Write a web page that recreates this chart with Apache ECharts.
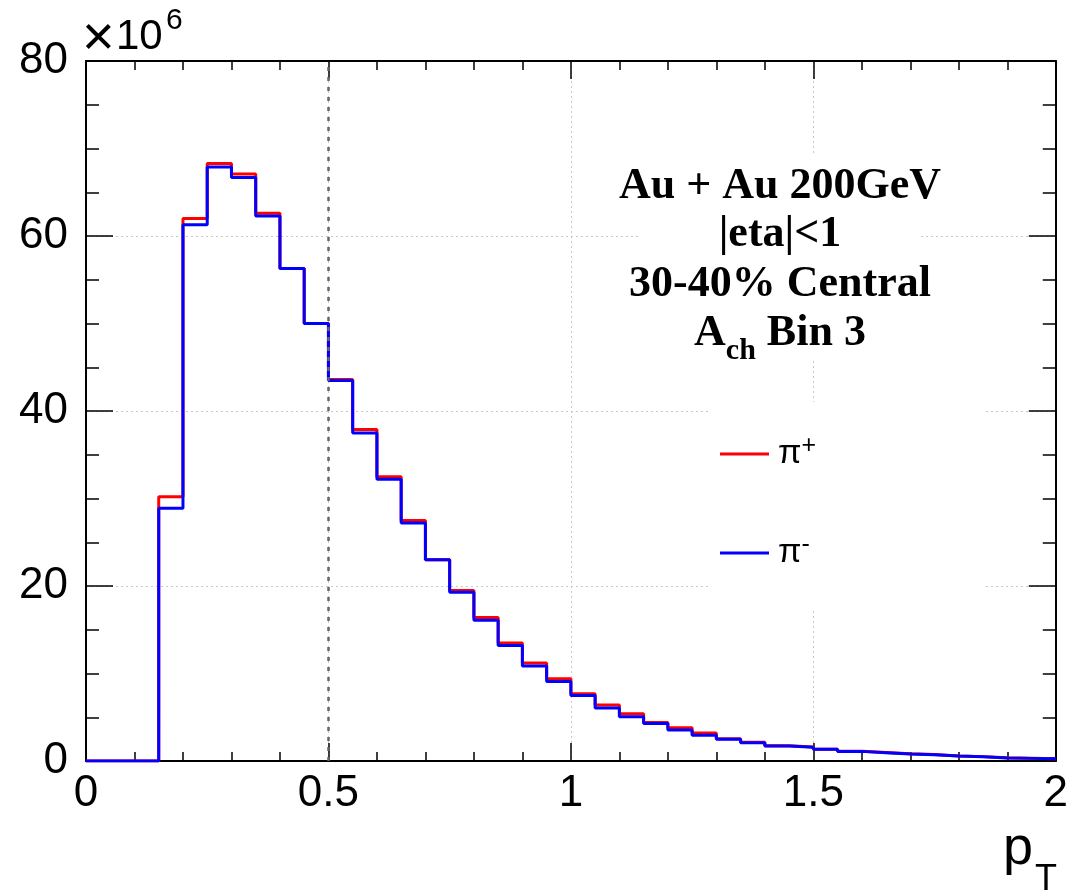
<!DOCTYPE html>
<html>
<head>
<meta charset="utf-8">
<script src="https://cdn.jsdelivr.net/npm/echarts@6/dist/echarts.min.js"></script>
<style>
html,body{margin:0;padding:0;background:#fff;}
#chart{width:1071px;height:893px;}
</style>
</head>
<body>
<div id="chart"></div>
<script>
// Bin edges in pT (GeV/c), 0.05 wide
const binEdges = [0,0.05,0.1,0.15,0.2,0.25,0.3,0.35,0.4,0.45,0.5,0.55,0.6,0.65,0.7,0.75,0.8,0.85,0.9,0.95,
  1.0,1.05,1.1,1.15,1.2,1.25,1.3,1.35,1.4,1.45,1.5,1.55,1.6,1.65,1.7,1.75,1.8,1.85,1.9,1.95,2.0];
// Counts in units of 10^6
const piPlusCounts = [0,0,0,30.2,62.0,68.3,67.1,62.6,56.3,50.0,43.6,37.9,32.5,27.5,23.0,19.5,16.4,13.5,11.2,9.4,
  7.7,6.4,5.4,4.4,3.8,3.2,2.55,2.15,1.75,1.6,1.35,1.12,0.97,0.82,0.73,0.58,0.5,0.36,0.31,0.26];
const piMinusCounts = [0,0,0,28.9,61.3,67.9,66.7,62.3,56.3,50.0,43.5,37.5,32.2,27.2,23.0,19.3,16.1,13.2,10.85,9.1,
  7.5,6.05,5.06,4.3,3.54,2.93,2.48,2.09,1.71,1.56,1.33,1.1,0.95,0.8,0.72,0.57,0.49,0.34,0.3,0.25];
const seriesNames = ['π+', 'π-'];
const infoLines = ['Au + Au 200GeV', '|eta|<1', '30-40% Central'];
const cutValue = 0.5;

function histData(counts) {
  const d = [];
  for (let i = 0; i < counts.length; i++) d.push([binEdges[i], counts[i]]);
  d.push([binEdges[counts.length], counts[counts.length - 1]]);
  return d;
}

const sans = 'Liberation Sans';
const serif = 'Liberation Serif';
const gridBox = {left: 86, top: 61, width: 970, height: 700};

function xAxisDef(pos, showLabel, showSplit) {
  return {
    type: 'value', min: 0, max: 2, interval: 0.5, position: pos,
    axisLine: {show: true, onZero: false, lineStyle: {color: '#000', width: 2}},
    axisTick: {show: true, inside: true, length: 18, lineStyle: {color: '#000', width: 1.5}},
    minorTick: {show: true, splitNumber: 5, length: 9, lineStyle: {color: '#000', width: 1.5}},
    axisLabel: {show: showLabel, fontSize: 44, fontFamily: sans, color: '#000', margin: 11},
    splitLine: {show: showSplit, lineStyle: {color: '#c8c8c8', width: 1, type: [2, 3]}},
    minorSplitLine: {show: false}
  };
}
function yAxisDef(pos, showLabel, showSplit) {
  return {
    type: 'value', min: 0, max: 80, interval: 20, position: pos,
    axisLine: {show: true, onZero: false, lineStyle: {color: '#000', width: 2}},
    axisTick: {show: true, inside: true, length: 27, lineStyle: {color: '#000', width: 1.5}},
    minorTick: {show: true, splitNumber: 4, length: 13, lineStyle: {color: '#000', width: 1.5}},
    axisLabel: {show: showLabel, fontSize: 44, fontFamily: sans, color: '#000', margin: 18},
    splitLine: {show: showSplit, lineStyle: {color: '#c8c8c8', width: 1, type: [2, 3]}},
    minorSplitLine: {show: false}
  };
}

const chart = echarts.init(document.getElementById('chart'), null, {renderer: 'canvas'});
chart.setOption({
  animation: false,
  backgroundColor: '#fff',
  grid: gridBox,
  xAxis: [xAxisDef('bottom', true, true), xAxisDef('top', false, false)],
  yAxis: [yAxisDef('left', true, true), yAxisDef('right', false, false)],
  legend: {
    data: seriesNames,
    orient: 'vertical',
    left: 720, top: 434,
    padding: 0,
    itemGap: 62,
    itemWidth: 49, itemHeight: 3,
    icon: 'rect',
    selectedMode: false,
    formatter: function (name) {
      return '{b|π}{s|' + name.slice(1) + '}';
    },
    textStyle: {
      padding: [0, 0, 0, 4],
      rich: {
        b: {fontSize: 34, fontFamily: sans, color: '#000', lineHeight: 40},
        s: {fontSize: 25, fontFamily: sans, color: '#000', lineHeight: 24, verticalAlign: 'top'}
      }
    }
  },
  graphic: [
    {type: 'rect', z: 1, shape: {x: 638, y: 155, width: 281, height: 205}, style: {fill: '#fff'}, silent: true},
    {type: 'rect', z: 1, shape: {x: 708, y: 402, width: 277, height: 208}, style: {fill: '#fff'}, silent: true},
    {type: 'text', z: 5, style: {text: infoLines[0], x: 780, y: 187, textAlign: 'center', textVerticalAlign: 'middle',
      font: 'bold 44px "Liberation Serif"', fill: '#000'}},
    {type: 'text', z: 5, style: {text: infoLines[1], x: 780, y: 235, textAlign: 'center', textVerticalAlign: 'middle',
      font: 'bold 44px "Liberation Serif"', fill: '#000'}},
    {type: 'text', z: 5, style: {text: infoLines[2], x: 780, y: 285, textAlign: 'center', textVerticalAlign: 'middle',
      font: 'bold 44px "Liberation Serif"', fill: '#000'}},
    {type: 'text', z: 5, style: {text: '{a|A}{c|ch}{a| Bin 3}', x: 780, y: 334, textAlign: 'center', textVerticalAlign: 'middle',
      rich: {
        a: {fontSize: 44, fontWeight: 'bold', fontFamily: serif, color: '#000', lineHeight: 48},
        c: {fontSize: 30, fontWeight: 'bold', fontFamily: serif, color: '#000', lineHeight: 30, verticalAlign: 'bottom', padding: [0, 0, -8, 0]}
      }}},
    {type: 'text', z: 5, style: {text: '×', x: 82, y: 40, textVerticalAlign: 'middle', font: '56px "Liberation Sans"', fill: '#000'}},
    {type: 'text', z: 5, style: {text: '10', x: 116, y: 37, textVerticalAlign: 'middle', font: '42px "Liberation Sans"', fill: '#000'}},
    {type: 'text', z: 5, style: {text: '6', x: 166, y: 21, textVerticalAlign: 'middle', font: '30px "Liberation Sans"', fill: '#000'}},
    {type: 'text', z: 5, style: {text: 'p', x: 1003, y: 849, textVerticalAlign: 'middle', font: '54px "Liberation Sans"', fill: '#000'}},
    {type: 'text', z: 5, style: {text: 'T', x: 1035, y: 880, textVerticalAlign: 'middle', font: '36px "Liberation Sans"', fill: '#000'}}
  ],
  series: [
    {
      name: seriesNames[0], type: 'line', step: 'end', symbol: 'none', z: 3,
      color: '#ff0000', lineStyle: {color: '#ff0000', width: 3},
      data: histData(piPlusCounts)
    },
    {
      name: seriesNames[1], type: 'line', step: 'end', symbol: 'none', z: 4,
      color: '#0000ff', lineStyle: {color: '#0000ff', width: 3},
      data: histData(piMinusCounts),
      markLine: {
        silent: true, symbol: ['none', 'none'], label: {show: false},
        lineStyle: {color: '#666', width: 2.5, type: [4, 6]},
        data: [[{coord: [cutValue, 0]}, {coord: [cutValue, 80]}]]
      }
    }
  ]
});
</script>
</body>
</html>
